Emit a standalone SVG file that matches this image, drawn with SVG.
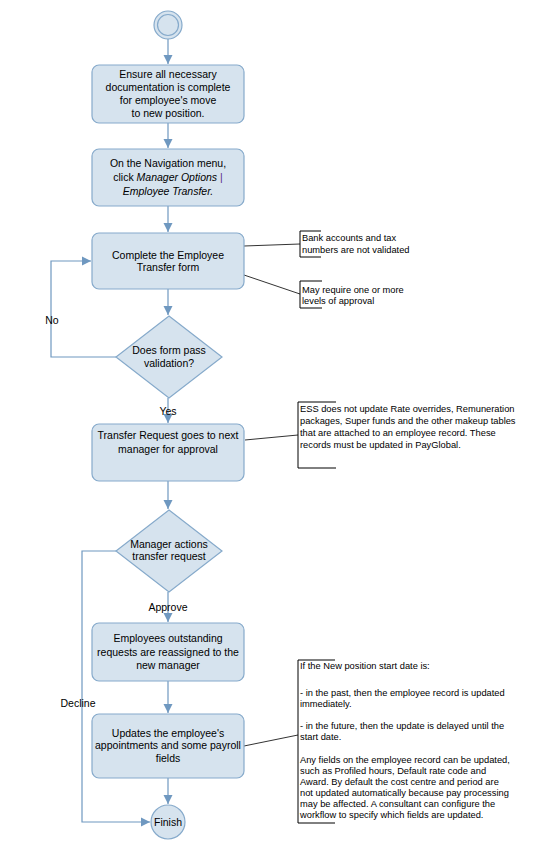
<svg xmlns="http://www.w3.org/2000/svg" width="536" height="852" viewBox="0 0 536 852">
<style>
.n{fill:#d6e3ee;stroke:#86aacb;stroke-width:1.2}
.t{font-family:"Liberation Sans",Arial,sans-serif;font-size:10.5px;fill:#000;text-anchor:middle}
.l{font-family:"Liberation Sans",Arial,sans-serif;font-size:10.5px;fill:#000;text-anchor:middle}
.c{fill:none;stroke:#6f98c0;stroke-width:1.2}
.a{fill:none;stroke:#333;stroke-width:1}
.b{fill:none;stroke:#000;stroke-width:1}
.nt{font-family:"Liberation Sans",Arial,sans-serif;font-size:9.3px;fill:#000}
</style>
<defs>
<marker id="ar" markerWidth="10" markerHeight="10" refX="9" refY="5" orient="auto" markerUnits="userSpaceOnUse">
<path d="M0,0.5 L9,5 L0,9.5 Z" fill="#6f98c0"/>
</marker>
</defs>
<rect width="536" height="852" fill="#fff"/>
<g id="connectors">
<line class="c" x1="168" y1="39" x2="168" y2="64" marker-end="url(#ar)"/>
<line class="c" x1="168" y1="123" x2="168" y2="148" marker-end="url(#ar)"/>
<line class="c" x1="168" y1="206" x2="168" y2="232" marker-end="url(#ar)"/>
<line class="c" x1="168" y1="289" x2="168" y2="315" marker-end="url(#ar)"/>
<polyline class="c" points="116,357 51,357 51,261 91,261" marker-end="url(#ar)"/>
<text class="l" x="52" y="324">No</text>
<line class="c" x1="168" y1="398" x2="168" y2="423" marker-end="url(#ar)"/>
<text class="l" x="168" y="415">Yes</text>
<line class="c" x1="168" y1="481" x2="168" y2="509" marker-end="url(#ar)"/>
<polyline class="c" points="116,551 82,551 82,822 150,822" marker-end="url(#ar)"/>
<text class="l" x="78" y="707">Decline</text>
<line class="c" x1="168" y1="592" x2="168" y2="622" marker-end="url(#ar)"/>
<text class="l" x="168" y="611">Approve</text>
<line class="c" x1="168" y1="681" x2="168" y2="713" marker-end="url(#ar)"/>
<line class="c" x1="168" y1="778" x2="168" y2="804" marker-end="url(#ar)"/>
<line class="a" x1="244" y1="246" x2="300" y2="244"/>
<line class="a" x1="244" y1="275" x2="300" y2="294"/>
<line class="a" x1="245" y1="440" x2="298" y2="435"/>
<line class="a" x1="244" y1="746" x2="298" y2="735"/>
</g>
<g id="start">
<circle class="n" cx="168" cy="25" r="14"/>
<circle class="n" cx="168" cy="25" r="10.5"/>
</g>
<g id="step1">
<rect class="n" x="92" y="65" width="152" height="58" rx="7"/>
<text class="t" x="168" y="78">Ensure all necessary</text>
<text class="t" x="168" y="91">documentation is complete</text>
<text class="t" x="168" y="104">for employee's move</text>
<text class="t" x="168" y="117">to new position.</text>
</g>
<g id="step2">
<rect class="n" x="92" y="149" width="152" height="57" rx="7"/>
<text class="t" x="168" y="167">On the Navigation menu,</text>
<text class="t" x="168" y="181">click <tspan font-style="italic">Manager Options</tspan> <tspan fill="#5a2d82">|</tspan></text>
<text class="t" x="168" y="195" font-style="italic">Employee Transfer.</text>
</g>
<g id="step3">
<rect class="n" x="92" y="233" width="152" height="56" rx="7"/>
<text class="t" x="168" y="259">Complete the Employee</text>
<text class="t" x="168" y="271">Transfer form</text>
</g>
<g id="decision1">
<polygon class="n" points="169,316 222,357 169,398 116,357"/>
<text class="t" x="169" y="354">Does form pass</text>
<text class="t" x="169" y="367">validation?</text>
</g>
<g id="step4">
<rect class="n" x="92" y="424" width="152" height="57" rx="7"/>
<text class="t" x="168" y="439">Transfer Request goes to next</text>
<text class="t" x="168" y="453">manager for approval</text>
</g>
<g id="decision2">
<polygon class="n" points="169,510 222,551 169,592 116,551"/>
<text class="t" x="169" y="548">Manager actions</text>
<text class="t" x="169" y="560">transfer request</text>
</g>
<g id="step5">
<rect class="n" x="92" y="623" width="152" height="58" rx="7"/>
<text class="t" x="168" y="642">Employees outstanding</text>
<text class="t" x="168" y="656">requests are reassigned to the</text>
<text class="t" x="168" y="669">new manager</text>
</g>
<g id="step6">
<rect class="n" x="92" y="714" width="152" height="64" rx="7"/>
<text class="t" x="168" y="737">Updates the employee's</text>
<text class="t" x="168" y="749">appointments and some payroll</text>
<text class="t" x="168" y="762">fields</text>
</g>
<g id="finish">
<circle class="n" cx="168" cy="822" r="17"/>
<text class="t" x="168" y="826">Finish</text>
</g>
<g id="note1">
<polyline class="b" points="321,231 300,231 300,257 321,257"/>
<text class="nt" x="302" y="241">Bank accounts and tax</text>
<text class="nt" x="302" y="253">numbers are not validated</text>
</g>
<g id="note2">
<polyline class="b" points="322,281 300,281 300,308 322,308"/>
<text class="nt" x="302" y="293">May require one or more</text>
<text class="nt" x="302" y="304">levels of approval</text>
</g>
<g id="note3">
<polyline class="b" points="336,402 298,402 298,468 336,468"/>
<text class="nt" x="300" y="412">ESS does not update Rate overrides, Remuneration</text>
<text class="nt" x="300" y="424">packages, Super funds and the other makeup tables</text>
<text class="nt" x="300" y="436">that are attached to an employee record. These</text>
<text class="nt" x="300" y="448">records must be updated in PayGlobal.</text>
</g>
<g id="note4">
<polyline class="b" points="335,660 298,660 298,823 335,823"/>
<text class="nt" x="300" y="669">If the New position start date is:</text>
<text class="nt" x="300" y="696">- in the past, then the employee record is updated</text>
<text class="nt" x="300" y="707">immediately.</text>
<text class="nt" x="300" y="729">- in the future, then the update is delayed until the</text>
<text class="nt" x="300" y="740">start date.</text>
<text class="nt" x="300" y="763">Any fields on the employee record can be updated,</text>
<text class="nt" x="300" y="774">such as Profiled hours, Default rate code and</text>
<text class="nt" x="300" y="785">Award. By default the cost centre and period are</text>
<text class="nt" x="300" y="796">not updated automatically because pay processing</text>
<text class="nt" x="300" y="807">may be affected. A consultant can configure the</text>
<text class="nt" x="300" y="818">workflow to specify which fields are updated.</text>
</g>
</svg>
